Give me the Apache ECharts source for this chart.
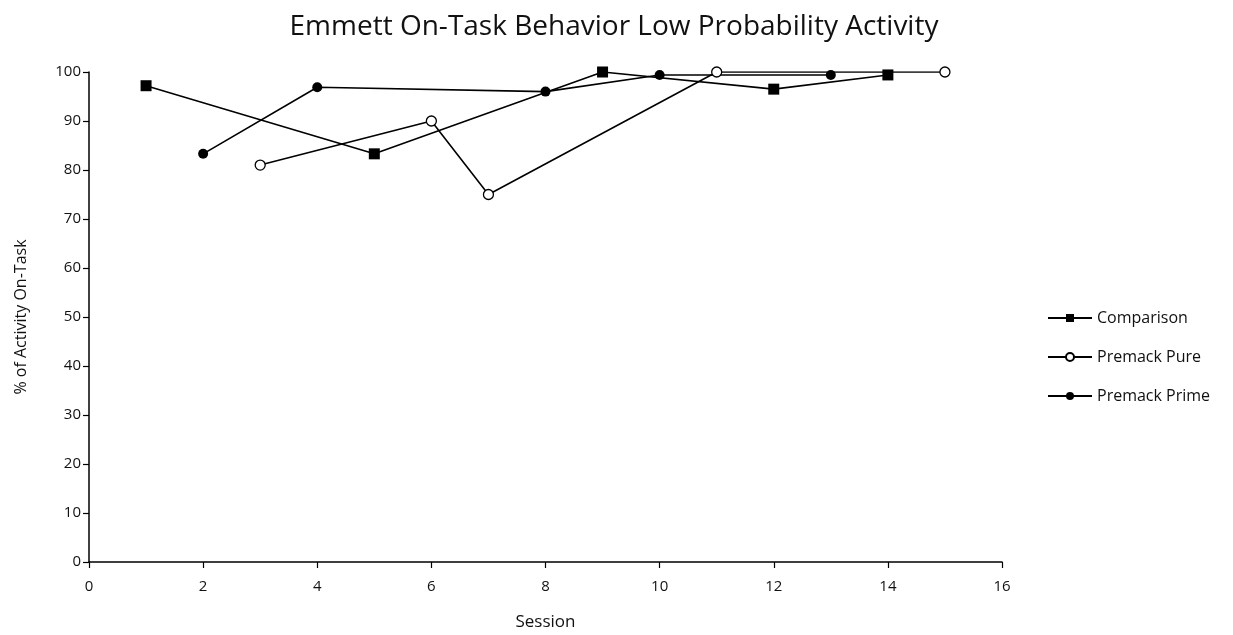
<!DOCTYPE html>
<html>
<head>
<meta charset="utf-8">
<script src="https://cdn.jsdelivr.net/npm/echarts@6/dist/echarts.min.js"></script>
<style>
  html, body { margin: 0; padding: 0; background: #fff; }
  #chart { width: 1233px; height: 635px; }
</style>
</head>
<body>
<div id="chart"></div>
<script>
// Session numbers and % on-task for each condition
const comparisonSessions = [1, 5, 9, 12, 14];
const comparisonValues   = [97.2, 83.3, 100, 96.5, 99.4];

const purePremackSessions = [3, 6, 7, 11, 15];
const purePremackValues   = [81, 90, 75, 100, 100];

const primePremackSessions = [2, 4, 8, 10, 13];
const primePremackValues   = [83.3, 96.9, 96, 99.4, 99.4];

const seriesNames = ['Comparison', 'Premack Pure', 'Premack Prime'];
const xTicks = { min: 0, max: 16, interval: 2 };
const yTicks = { min: 0, max: 100, interval: 10 };

const FONT = '"Open Sans", "Noto Sans", sans-serif';

function pairs(xs, ys) { return xs.map((x, i) => [x, ys[i]]); }

const lineStyle = { color: '#000', width: 1.6 };

const chart = echarts.init(document.getElementById('chart'), null, { renderer: 'canvas' });
chart.setOption({
  animation: false,
  backgroundColor: '#fff',
  title: {
    text: 'Emmett On-Task Behavior Low Probability Activity',
    left: 609, top: 8, textAlign: 'center',
    textStyle: { fontFamily: FONT, fontSize: 28, fontWeight: 'normal', color: '#111' }
  },
  legend: {
    orient: 'vertical',
    left: 1042, top: 305,
    itemGap: 23,
    itemWidth: 44, itemHeight: 10,
    data: seriesNames,
    textStyle: { fontFamily: FONT, fontSize: 16, color: '#111' }
  },
  grid: { left: 89, right: 231, top: 72, bottom: 73, outerBoundsMode: 'none' },
  xAxis: {
    type: 'value',
    min: xTicks.min, max: xTicks.max, interval: xTicks.interval,
    name: 'Session', nameLocation: 'middle', nameGap: 52,
    nameTextStyle: { fontFamily: FONT, fontSize: 17, color: '#111' },
    axisLine: { lineStyle: { color: '#000', width: 1.5 } },
    axisTick: { show: true, length: 6, lineStyle: { color: '#000', width: 1.2 } },
    axisLabel: { fontFamily: FONT, fontSize: 15, color: '#111', margin: 17 },
    splitLine: { show: false }
  },
  yAxis: {
    type: 'value',
    min: yTicks.min, max: yTicks.max, interval: yTicks.interval,
    name: '% of Activity On-Task', nameLocation: 'middle', nameGap: 60,
    nameTextStyle: { fontFamily: FONT, fontSize: 16, color: '#111' },
    axisLine: { show: true, lineStyle: { color: '#000', width: 1.5 } },
    axisTick: { show: true, length: 6, lineStyle: { color: '#000', width: 1.2 } },
    axisLabel: { fontFamily: FONT, fontSize: 15, color: '#111', margin: 8 },
    splitLine: { show: false }
  },
  series: [
    {
      name: seriesNames[0], type: 'line',
      data: pairs(comparisonSessions, comparisonValues),
      symbol: 'rect', symbolSize: 11,
      itemStyle: { color: '#000' }, lineStyle
    },
    {
      name: seriesNames[1], type: 'line',
      data: pairs(purePremackSessions, purePremackValues),
      symbol: 'circle', symbolSize: 10,
      itemStyle: { color: '#fff', borderColor: '#000', borderWidth: 1.3 }, lineStyle
    },
    {
      name: seriesNames[2], type: 'line',
      data: pairs(primePremackSessions, primePremackValues),
      symbol: 'circle', symbolSize: 10,
      itemStyle: { color: '#000' }, lineStyle
    }
  ]
});
</script>
</body>
</html>
